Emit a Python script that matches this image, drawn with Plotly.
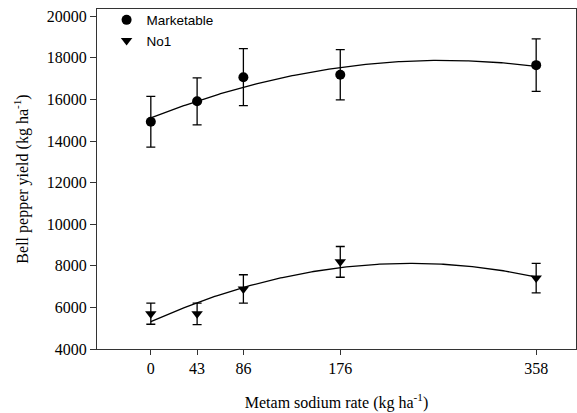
import numpy as np
import plotly.graph_objects as go

rates = [0, 43, 86, 176, 358]
marketable = [14930, 15910, 17070, 17190, 17650]
marketable_err = [1220, 1130, 1370, 1210, 1260]
no1 = [5700, 5690, 6890, 8190, 7410]
no1_err = [510, 520, 680, 740, 710]
x_ticks = [0, 43, 86, 176, 358]
y_ticks = [4000, 6000, 8000, 10000, 12000, 14000, 16000, 18000, 20000]

serif = "Liberation Serif, Times New Roman, serif"
sans = "Liberation Sans, Arial, sans-serif"

fig = go.Figure()

xs = np.linspace(min(rates), max(rates), 200)
for vals in (marketable, no1):
    coef = np.polyfit(rates, vals, 2)
    fig.add_trace(go.Scatter(x=xs, y=np.polyval(coef, xs), mode="lines",
                             line=dict(color="black", width=1.3),
                             showlegend=False, hoverinfo="skip"))

fig.add_trace(go.Scatter(
    x=rates, y=marketable, mode="markers", name="Marketable",
    marker=dict(symbol="circle", size=10, color="black"),
    error_y=dict(type="data", array=marketable_err, color="black", thickness=1.3, width=4.5)))
fig.add_trace(go.Scatter(
    x=rates, y=no1, mode="markers", name="No1",
    marker=dict(symbol="triangle-down", size=10, color="black"),
    error_y=dict(type="data", array=no1_err, color="black", thickness=1.3, width=4.5)))

fig.update_layout(
    width=577, height=413,
    margin=dict(l=97, r=1, t=9, b=64),
    paper_bgcolor="white", plot_bgcolor="white",
    legend=dict(x=0.02, y=1.013, xanchor="left", yanchor="top",
                bgcolor="rgba(0,0,0,0)", font=dict(family=sans, size=13.5, color="black"),
                tracegroupgap=0, itemwidth=30),
    xaxis=dict(range=[-50, 395], tickmode="array", tickvals=x_ticks,
               ticktext=[str(v) for v in x_ticks],
               showgrid=False, zeroline=False,
               showline=True, linecolor="#333", linewidth=1, mirror=True,
               ticks="outside", ticklen=5, tickcolor="#333",
               tickfont=dict(family=serif, size=16, color="black"),
               title=dict(text="Metam sodium rate (kg ha<sup>-1</sup>)",
                          font=dict(family=serif, size=16, color="black"), standoff=20)),
    yaxis=dict(range=[4000, 20350], tickmode="array", tickvals=y_ticks,
               ticktext=[str(v) for v in y_ticks],
               showgrid=False, zeroline=False,
               showline=True, linecolor="#333", linewidth=1, mirror=True,
               ticks="outside", ticklen=6, tickcolor="#333",
               tickfont=dict(family=serif, size=16, color="black"),
               title=dict(text="Bell pepper yield (kg ha<sup>-1</sup>)",
                          font=dict(family=serif, size=16, color="black"), standoff=14)),
)

fig.write_html("out.html")
